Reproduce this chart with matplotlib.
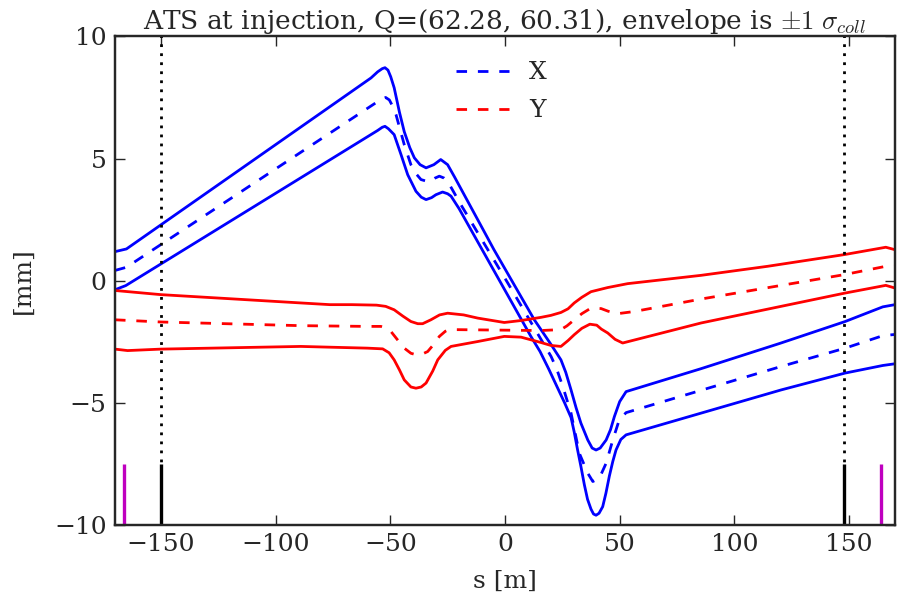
import numpy as np
import matplotlib
matplotlib.use('Agg')
import matplotlib.pyplot as plt

# horizontal beam envelope (X) in mm
s_xu = [-170, -165, -58.4, -55.5, -53.5, -52.3, -51, -49.8, -48.3, -46, -43.9, -41.5, -39.5, -37, -34.4, -31, -28,
        -25, -22, -9, -4.8, 12.8, 20, 24.4, 26.5, 28.8, 31, 33.1, 36.1, 38, 39.7, 41.5, 44.1, 46, 47.7,
        50, 52.8, 85.5, 120, 148.3, 164.7, 170]
x_up = [1.19, 1.3, 8.3, 8.55, 8.68, 8.72, 8.62, 8.35, 7.9, 6.9, 6.1, 5.45, 5.03, 4.75, 4.62, 4.75, 4.96,
        4.75, 4.25, 2.0, 1.27, -1.6, -2.6, -3.24, -3.75, -4.47, -5.2, -5.83, -6.52, -6.85, -6.93, -6.85, -6.52, -6.1, -5.56,
        -4.95, -4.54, -3.6, -2.56, -1.67, -1.07, -0.98]

s_xm = [-170, -165, -56, -53.5, -52, -50.4, -49, -47.5, -43.9, -41, -38.5, -36.6, -33, -30.5, -28.6, -26.5, -25,
        -19.2, 1.2, 20.1, 22.5, 25.2, 28.8, 32.4, 36.1, 38.3, 41.1, 44.1, 47, 49.8, 52.8, 120.4, 148.3, 164.7, 170]
x_mid = [0.42, 0.55, 7.3, 7.45, 7.5, 7.4, 7.15, 6.8, 5.57, 4.75, 4.35, 4.14, 4.04, 4.2, 4.28, 4.2, 4.07,
         3.11, -0.09, -3.1, -3.6, -4.33, -5.42, -7.06, -7.88, -8.22, -8.09, -7.47, -6.52, -5.7, -5.4, -3.51, -2.76, -2.25, -2.2]

s_xl = [-170, -165.3, -55.5, -53.5, -52.3, -50.8, -48.3, -45.3, -42.4, -38.8, -36.5, -34.4, -32, -30.1, -27.2, -25,
        -23.5, -20, 11.3, 15.3, 19, 23, 26, 28.8, 30.2, 31.6, 33.1, 34.6, 36, 37.5, 38.6, 39.7, 41, 42.6, 44,
        45.5, 47, 48.4, 50.5, 52.8, 120.4, 148.3, 164.7, 170]
x_lo = [-0.37, -0.2, 6.15, 6.28, 6.32, 6.22, 5.98, 5.16, 4.34, 3.66, 3.42, 3.32, 3.4, 3.52, 3.63, 3.56,
        3.46, 2.95, -2.28, -2.9, -3.6, -4.4, -5.0, -5.6, -6.2, -6.9, -7.6, -8.35, -8.95, -9.35, -9.55, -9.6, -9.52, -9.25, -8.7,
        -8.0, -7.4, -6.93, -6.5, -6.31, -4.47, -3.78, -3.47, -3.4]

# vertical beam envelope (Y) in mm
s_yu = [-170, -150, -89, -76.3, -66.7, -56, -52, -48.3, -44.5, -41, -38, -35.9, -32.3, -28.5, -25,
        -18, -11.9, -0.3, 7, 15.7, 20, 24.4, 27.5, 30.2, 33.5, 37.5, 44.8, 53.5, 85.5, 114.5, 148, 166, 170]
y_up = [-0.4, -0.57, -0.91, -0.98, -0.98, -1.0, -1.05, -1.19, -1.45, -1.67, -1.76, -1.76, -1.6, -1.4, -1.33,
        -1.4, -1.53, -1.71, -1.63, -1.5, -1.42, -1.3, -1.15, -0.91, -0.68, -0.45, -0.28, -0.12, 0.22, 0.59, 1.07, 1.37, 1.27]

s_ym = [-170, -150, -89, -60.6, -54.1, -51.5, -49.7, -47, -43.9, -41, -38.8, -36, -33.7, -31, -28.6,
        -26, -24.3, 15.7, 24.4, 27, 30.2, 33.5, 37.5, 41.9, 45, 49.1, 56.4, 85.5, 148, 166, 170]
y_mid = [-1.6, -1.69, -1.84, -1.87, -1.87, -1.95, -2.08, -2.4, -2.76, -2.97, -3.03, -3.0, -2.9, -2.6, -2.28,
         -2.07, -2.0, -2.04, -2.0, -1.85, -1.6, -1.35, -1.12, -1.14, -1.25, -1.35, -1.26, -0.75, 0.25, 0.59, 0.6]

s_yl = [-170, -164.5, -150, -89, -76.8, -60, -53.3, -50.5, -48.3, -46, -43.9, -41, -38.8, -36.5, -34.4,
        -31.5, -29.3, -26, -23.5, -11.9, -0.3, 7, 15.7, 20, 24.4, 27.5, 30.2, 33.5, 37, 40, 42, 44.8, 48, 51.3,
        85.5, 148, 166, 170]
y_lo = [-2.8, -2.86, -2.8, -2.69, -2.72, -2.76, -2.79, -2.95, -3.24, -3.65, -4.06, -4.35, -4.4, -4.35, -4.19,
        -3.7, -3.24, -2.85, -2.69, -2.49, -2.28, -2.31, -2.53, -2.65, -2.69, -2.45, -2.21, -1.95, -1.78, -1.82, -1.98, -2.14, -2.4, -2.55,
        -1.73, -0.51, -0.19, -0.3]

# element markers along s
s_dotted = [-150, 148]
s_black = [-150, 148]
s_magenta = [-166, 164]
marker_top = -7.5

plt.rcParams['font.family'] = 'DejaVu Serif'
plt.rcParams['mathtext.fontset'] = 'cm'
plt.rcParams['font.size'] = 18
for k in ['text.color', 'axes.labelcolor', 'xtick.color', 'ytick.color', 'axes.edgecolor']:
    plt.rcParams[k] = '.15'

fig = plt.figure(figsize=(9.01, 5.97), dpi=100)
ax = fig.add_axes([0.1276, 0.1206, 0.8657, 0.8184])

dash = (0, (3.8, 3.9))
ax.plot(s_xu, x_up, color='b', lw=2)
ax.plot(s_xm, x_mid, color='b', lw=2, linestyle=dash, label='X')
ax.plot(s_xl, x_lo, color='b', lw=2)
ax.plot(s_yu, y_up, color='r', lw=2)
ax.plot(s_ym, y_mid, color='r', lw=2, linestyle=dash, label='Y')
ax.plot(s_yl, y_lo, color='r', lw=2)

for s in s_dotted:
    ax.axvline(s, color='k', lw=2, linestyle=(0, (1, 2.25)))
ax.vlines(s_black, -10, marker_top, color='k', lw=2.4)
ax.vlines(s_magenta, -10, marker_top, color='m', lw=2.4)

ax.set_xlim(-170, 170)
ax.set_ylim(-10, 10)
ax.set_xticks([-150, -100, -50, 0, 50, 100, 150])
ax.set_yticks([-10, -5, 0, 5, 10])
ax.tick_params(direction='in', top=True, right=True, length=7, width=1, pad=6)
for sp in ax.spines.values():
    sp.set_linewidth(1.75)

ax.set_xlabel('s [m]', labelpad=10)
ax.set_ylabel('[mm]', labelpad=14)
ax.set_title(r'ATS at injection, Q=(62.28, 60.31), envelope is $\pm1\ \sigma_{coll}$', fontsize=19, pad=5)

ax.legend(loc='upper left', bbox_to_anchor=(0.409, 0.995), frameon=False,
          handlelength=2.1, handletextpad=0.8, labelspacing=0.6)

fig.savefig('out.png', dpi=100)
